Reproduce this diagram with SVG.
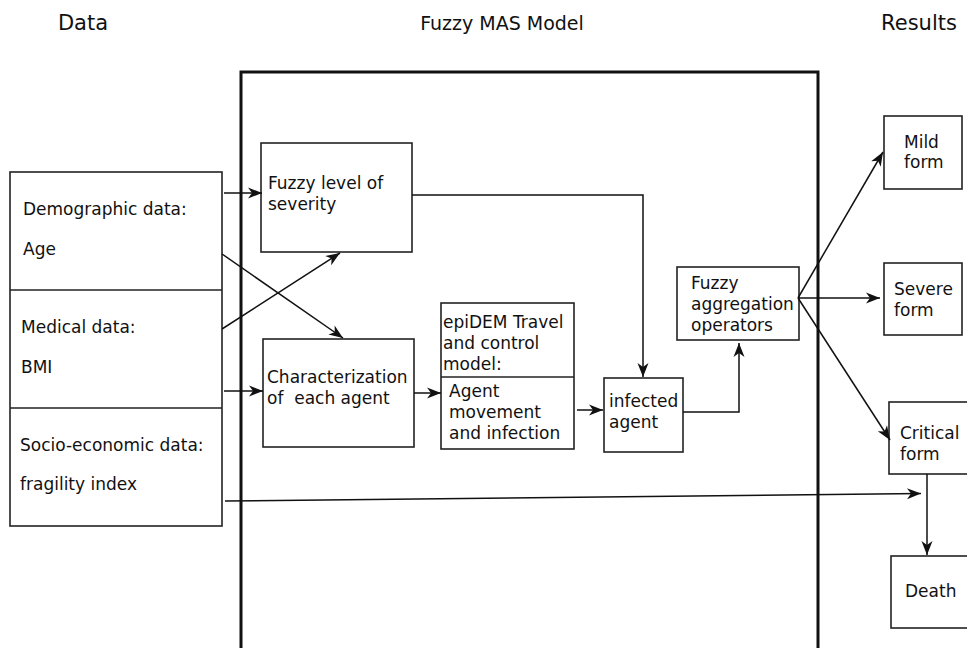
<svg xmlns="http://www.w3.org/2000/svg" width="967" height="648" viewBox="0 0 967 648">
<defs>
<marker id="arr" markerUnits="userSpaceOnUse" viewBox="-15 -6 16 12" refX="0" refY="0" markerWidth="16" markerHeight="12" orient="auto">
<path d="M0,0 L-14,-5.5 L-10,0 L-14,5.5 Z" fill="#111"/>
</marker>
</defs>
<style>
.box{fill:#fff;stroke:#222;stroke-width:1.6}
.frame{fill:none;stroke:#111;stroke-width:3}
.t{font-family:"DejaVu Sans",sans-serif;font-size:17px;fill:#111}
.title{font-family:"DejaVu Sans",sans-serif;font-size:21px;fill:#111}
.c{fill:none;stroke:#111;stroke-width:1.5}
</style>
<rect width="967" height="648" fill="#fff"/>
<g id="titles">
<text class="title" x="83" y="30" text-anchor="middle">Data</text>
<text class="title" x="502" y="30" text-anchor="middle" style="font-size:19px">Fuzzy MAS Model</text>
<text class="title" x="919" y="30" text-anchor="middle">Results</text>
</g>
<g id="mas-frame"><path class="frame" d="M241,652 L241,72 L818,72 L818,652"/></g>
<g id="data">
<rect class="box" x="10" y="172" width="212" height="354"/>
<line class="box" x1="10" y1="290" x2="222" y2="290"/>
<line class="box" x1="10" y1="408" x2="222" y2="408"/>
<text class="t" x="23" y="215">Demographic data:</text>
<text class="t" x="23" y="255">Age</text>
<text class="t" x="21" y="333">Medical data:</text>
<text class="t" x="21" y="373">BMI</text>
<text class="t" x="20" y="451">Socio-economic data:</text>
<text class="t" x="20" y="490">fragility index</text>
</g>
<g id="fuzzy-level">
<rect class="box" x="261" y="143" width="151" height="109"/>
<text class="t" x="268" y="189">Fuzzy level of</text>
<text class="t" x="268" y="210">severity</text>
</g>
<g id="characterization">
<rect class="box" x="263" y="339" width="151" height="108"/>
<text class="t" x="267" y="383">Characterization</text>
<text class="t" x="267" y="404" xml:space="preserve">of  each agent</text>
</g>
<g id="epidem">
<rect class="box" x="441" y="303" width="133" height="146"/>
<line class="box" x1="441" y1="377" x2="574" y2="377"/>
<text class="t" x="443" y="328">epiDEM Travel</text>
<text class="t" x="443" y="349">and control</text>
<text class="t" x="443" y="370">model:</text>
<text class="t" x="449" y="397">Agent</text>
<text class="t" x="449" y="418">movement</text>
<text class="t" x="449" y="439">and infection</text>
</g>
<g id="infected">
<rect class="box" x="604" y="378" width="79" height="74"/>
<text class="t" x="609" y="407">infected</text>
<text class="t" x="609" y="428">agent</text>
</g>
<g id="aggregation">
<rect class="box" x="677" y="267" width="122" height="73"/>
<text class="t" x="691" y="289">Fuzzy</text>
<text class="t" x="691" y="310">aggregation</text>
<text class="t" x="691" y="331">operators</text>
</g>
<g id="mild">
<rect class="box" x="884" y="116" width="78" height="73"/>
<text class="t" x="904" y="148">Mild</text>
<text class="t" x="904" y="168">form</text>
</g>
<g id="severe">
<rect class="box" x="884" y="263" width="78" height="72"/>
<text class="t" x="894" y="295">Severe</text>
<text class="t" x="894" y="316">form</text>
</g>
<g id="critical">
<rect class="box" x="889" y="402" width="82" height="72"/>
<text class="t" x="900" y="439">Critical</text>
<text class="t" x="900" y="460">form</text>
</g>
<g id="death">
<rect class="box" x="891" y="556" width="80" height="72"/>
<text class="t" x="905" y="597">Death</text>
</g>
<g id="connectors">
<line class="c" x1="224" y1="193" x2="262" y2="193" marker-end="url(#arr)"/>
<line class="c" x1="224" y1="391" x2="263" y2="391" marker-end="url(#arr)"/>
<line class="c" x1="222" y1="254" x2="343" y2="338" marker-end="url(#arr)"/>
<line class="c" x1="222" y1="329" x2="340" y2="253" marker-end="url(#arr)"/>
<line class="c" x1="225" y1="501" x2="921" y2="493.5" marker-end="url(#arr)"/>
<polyline class="c" points="412,195 643,195 643,377" marker-end="url(#arr)"/>
<line class="c" x1="414" y1="393" x2="441" y2="393" marker-end="url(#arr)"/>
<line class="c" x1="577" y1="410" x2="603" y2="410" marker-end="url(#arr)"/>
<polyline class="c" points="683,412 739,412 739,343" marker-end="url(#arr)"/>
<line class="c" x1="798" y1="298" x2="883" y2="152" marker-end="url(#arr)"/>
<line class="c" x1="798" y1="298" x2="880" y2="298" marker-end="url(#arr)"/>
<line class="c" x1="798" y1="298" x2="890" y2="440" marker-end="url(#arr)"/>
<line class="c" x1="927" y1="474" x2="927" y2="555" marker-end="url(#arr)"/>
</g>
</svg>
